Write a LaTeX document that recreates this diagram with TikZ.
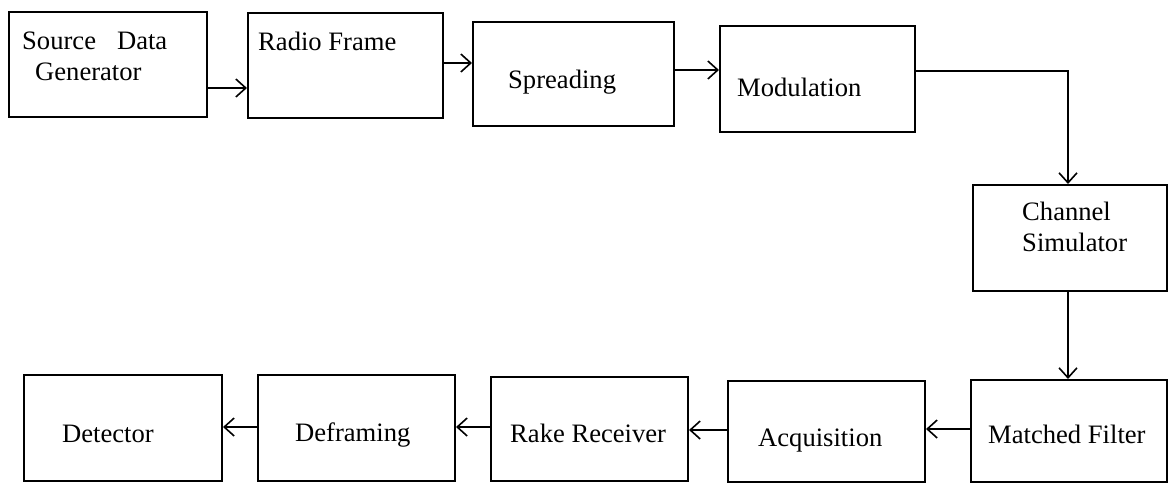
\documentclass[tikz,border=0pt]{standalone}
\usepackage{fontspec}
\setmainfont{Liberation Serif}
\usetikzlibrary{arrows.meta}

\begin{document}
\begin{tikzpicture}[x=1pt,y=-1pt,
    blk/.style={draw=black,line width=2pt,inner sep=0pt},
    txt/.style={inner sep=0pt,font=\fontsize{26.6}{31}\selectfont},
    arr/.style={line width=1.6pt,-{Straight Barb[length=10pt,width=18pt,line width=1.6pt]}}]
    \useasboundingbox (0,0) rectangle (1170,483);

    % transmitter chain
    \node[blk,minimum width=198pt,minimum height=105pt] (src) at (108,64.5) {};
    \node[blk,minimum width=195pt,minimum height=105pt] (rad) at (345.5,65.5) {};
    \node[blk,minimum width=201pt,minimum height=104pt] (spr) at (573.5,74) {};
    \node[blk,minimum width=195pt,minimum height=106pt] (mod) at (817.5,79) {};
    \node[blk,minimum width=194pt,minimum height=106pt] (chn) at (1070,238) {};

    % receiver chain
    \node[blk,minimum width=196pt,minimum height=102pt] (mf)  at (1069,431) {};
    \node[blk,minimum width=197pt,minimum height=101pt] (acq) at (826.5,431.5) {};
    \node[blk,minimum width=197pt,minimum height=104pt] (rake) at (589.5,429) {};
    \node[blk,minimum width=197pt,minimum height=106pt] (dfr) at (356.5,428) {};
    \node[blk,minimum width=198pt,minimum height=106pt] (det) at (123,428) {};

    % labels
    \node[txt,anchor=north west,align=left] (src-t) at (22,32) {Source\hspace{21pt}Data\\\hspace*{13pt}Generator};
    \node[txt,anchor=base west] (rad-t) at (258,50) {Radio Frame};
    \node[txt,anchor=base west] (spr-t) at (508,88) {Spreading};
    \node[txt,anchor=base west] (mod-t) at (737,96) {Modulation};
    \node[txt,anchor=north west,align=left] (chn-t) at (1022,202) {Channel\\Simulator};
    \node[txt,anchor=base west] (mf-t) at (988,443) {Matched Filter};
    \node[txt,anchor=base west] (acq-t) at (758,446) {Acquisition};
    \node[txt,anchor=base west] (rake-t) at (510,442) {Rake Receiver};
    \node[txt,anchor=base west] (dfr-t) at (295,441) {Deframing};
    \node[txt,anchor=base west] (det-t) at (62,442) {Detector};

    % connections
    \draw[arr] (src.east |- 0,88) -- (rad.west |- 0,88);
    \draw[arr] (rad.east |- 0,63) -- (spr.west |- 0,63);
    \draw[arr] (spr.east |- 0,70) -- (mod.west |- 0,70);
    \draw[arr] (mod.east |- 0,71) -| (chn.north -| 1068,0);
    \draw[arr] (chn.south -| 1068,0) -- (mf.north -| 1068,0);
    \draw[arr] (mf.west |- 0,429) -- (acq.east |- 0,429);
    \draw[arr] (acq.west |- 0,430) -- (rake.east |- 0,430);
    \draw[arr] (rake.west |- 0,427) -- (dfr.east |- 0,427);
    \draw[arr] (dfr.west |- 0,427) -- (det.east |- 0,427);
\end{tikzpicture}
\end{document}
